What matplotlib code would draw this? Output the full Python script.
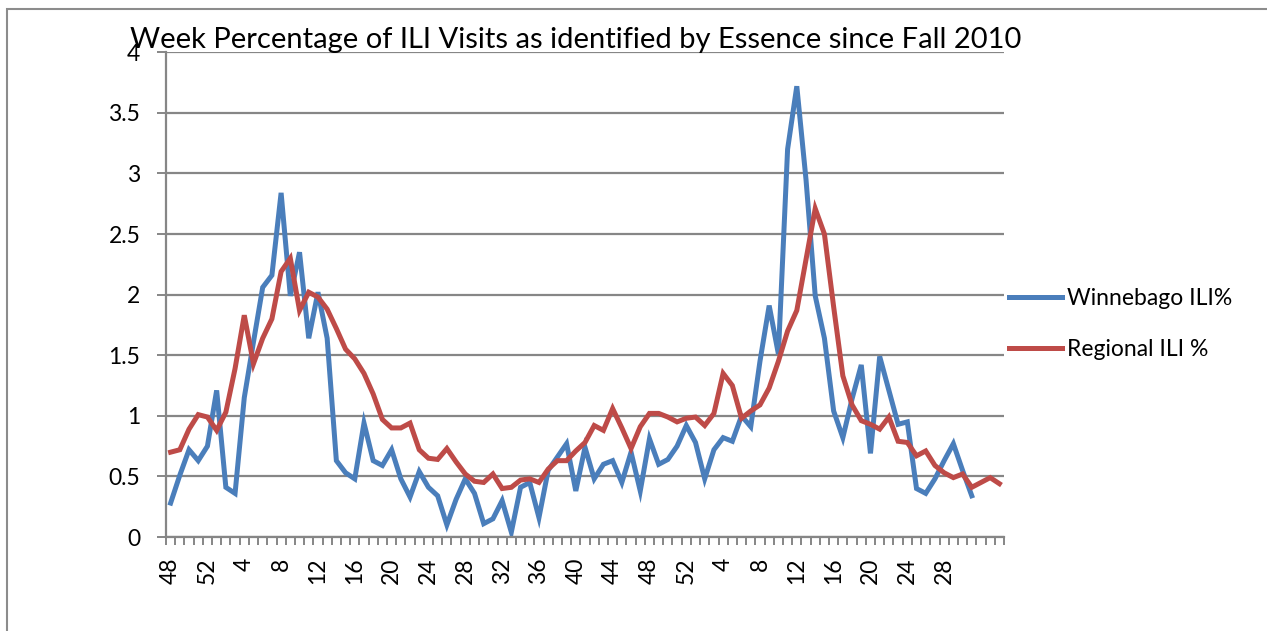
import matplotlib
matplotlib.use('Agg')
import matplotlib.pyplot as plt
from matplotlib.patches import Rectangle

plt.rcParams['font.family'] = ['Lato', 'DejaVu Sans']

# week numbers: 2010 wk 48-52, 2011 wk 1-52, 2012 wk 1-34
weeks = [48, 49, 50, 51, 52] + list(range(1, 53)) + list(range(1, 35))

winnebago = [0.28, 0.51, 0.72, 0.63, 0.75, 1.21, 0.41, 0.36, 1.15, 1.61,
             2.06, 2.16, 2.84, 1.99, 2.35, 1.64, 2.02, 1.64, 0.63, 0.53,
             0.48, 0.94, 0.63, 0.59, 0.72, 0.48, 0.33, 0.54, 0.41, 0.34,
             0.10, 0.31, 0.48, 0.36, 0.11, 0.15, 0.30, 0.04, 0.41, 0.45,
             0.16, 0.55, 0.66, 0.77, 0.38, 0.74, 0.48, 0.60, 0.63, 0.45,
             0.70, 0.38, 0.81, 0.60, 0.64, 0.75, 0.92, 0.78, 0.48, 0.72,
             0.82, 0.79, 1.00, 0.91, 1.45, 1.91, 1.51, 3.20, 3.72, 2.95,
             1.99, 1.64, 1.04, 0.82, 1.14, 1.42, 0.69, 1.49, 1.21, 0.93,
             0.95, 0.40, 0.36, 0.48, 0.63, 0.77, 0.55, 0.34]

regional = [0.70, 0.72, 0.89, 1.01, 0.99, 0.88, 1.03, 1.39, 1.83, 1.43,
            1.64, 1.80, 2.19, 2.30, 1.87, 2.02, 1.98, 1.88, 1.72, 1.55,
            1.47, 1.35, 1.18, 0.97, 0.90, 0.90, 0.94, 0.72, 0.65, 0.64,
            0.73, 0.62, 0.52, 0.46, 0.45, 0.52, 0.40, 0.41, 0.47, 0.48,
            0.45, 0.56, 0.63, 0.63, 0.71, 0.78, 0.92, 0.88, 1.06, 0.90,
            0.73, 0.91, 1.02, 1.02, 0.99, 0.95, 0.98, 0.99, 0.92, 1.02,
            1.35, 1.25, 0.98, 1.04, 1.09, 1.23, 1.45, 1.70, 1.87, 2.29,
            2.71, 2.50, 1.90, 1.33, 1.09, 0.96, 0.93, 0.89, 0.99, 0.79,
            0.78, 0.67, 0.71, 0.59, 0.53, 0.49, 0.52, 0.41, 0.45, 0.49,
            0.44]

# only every 4th week is labelled, up to week 28 of 2012
tick_labels = [str(w) for w in weeks[:85:4]]

grid_col = '#868686'

fig = plt.figure(figsize=(12.67, 6.31), dpi=100)
ax = fig.add_axes([166 / 1267, 1 - 537 / 631, 838 / 1267, 484.7 / 631])

x = list(range(len(weeks)))
ax.plot(x[:len(winnebago)], winnebago, color='#4A7EBB', lw=3.6,
        label='Winnebago ILI%', solid_joinstyle='miter')
ax.plot(x, regional, color='#BE4B48', lw=3.6,
        label='Regional ILI %', solid_joinstyle='miter')

ax.set_xlim(-0.5, len(weeks) - 0.5)
ax.set_ylim(0, 4)
ax.set_yticks([0, 0.5, 1, 1.5, 2, 2.5, 3, 3.5, 4])
ax.set_yticklabels(['0', '0.5', '1', '1.5', '2', '2.5', '3', '3.5', '4'])
ax.yaxis.grid(True, color=grid_col, lw=1.6)
ax.set_axisbelow(True)

# tick marks between categories, labels on categories
ax.set_xticks([i - 0.5 for i in range(len(weeks) + 1)])
ax.set_xticklabels([])
ax.set_xticks(x[:85:4], minor=True)
ax.set_xticklabels(tick_labels, minor=True, rotation=90)
ax.tick_params(axis='x', which='major', length=6, width=1.4, color=grid_col)
ax.tick_params(axis='x', which='minor', length=0, pad=15, labelsize=16.5)
ax.tick_params(axis='y', length=6.5, width=1.4, color=grid_col, pad=12,
               labelsize=16.5)

for s in ['top', 'right']:
    ax.spines[s].set_visible(False)
for s in ['left', 'bottom']:
    ax.spines[s].set_color(grid_col)
    ax.spines[s].set_linewidth(1.6)

ax.legend(loc='center left', bbox_to_anchor=(1.0, 0.44), frameon=False,
          fontsize=16.5, handlelength=2.35, handletextpad=0.2,
          labelspacing=1.3, borderaxespad=0.0, borderpad=0.2)

fig.text(576 / 1267, 1 - 48 / 631,
         'Week Percentage of ILI Visits as identified by Essence since Fall 2010',
         ha='center', va='baseline', fontsize=21)

# outer chart border (continues past the right and bottom edges)
fig.patches.append(Rectangle((7 / 1267, -0.2), 1.2, 1.2 - 9 / 631,
                             transform=fig.transFigure, fill=False,
                             edgecolor='#8c8c8c', lw=1.5))

fig.savefig('out.png', dpi=100)
